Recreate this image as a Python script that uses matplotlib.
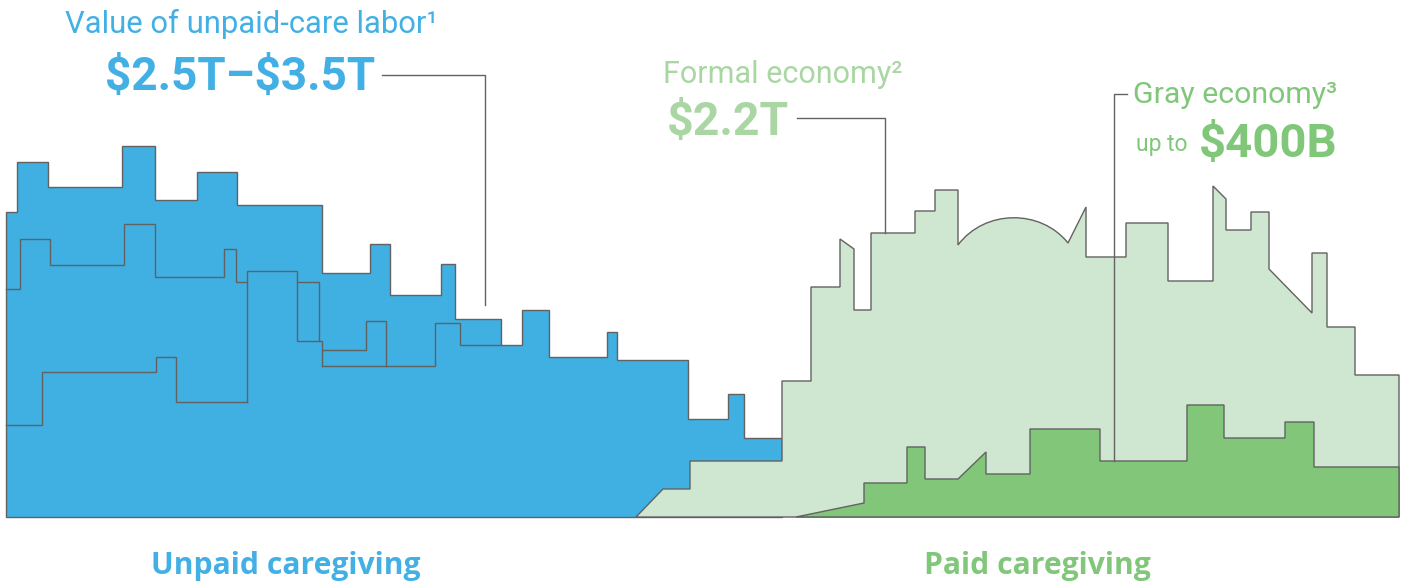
import matplotlib
matplotlib.use("Agg")
import matplotlib.pyplot as plt
from matplotlib.path import Path
from matplotlib.patches import PathPatch

# ---- data: skyline outlines (illustrative units; x left->right, y measured downward, baseline 517)
BASE = 517
unpaid_x = [6, 6, 17, 17, 48, 48, 122, 122, 155, 155, 197, 197, 237, 237, 322, 322, 370, 370,
            390, 390, 441, 441, 455, 455, 501, 501, 522, 522, 549, 549, 607, 607, 617, 617,
            688, 688, 728, 728, 744, 744, 782, 782]
unpaid_y = [517, 212, 212, 162, 162, 187, 187, 146, 146, 200, 200, 172, 172, 205, 205, 273, 273, 244,
            244, 295, 295, 264, 264, 319, 319, 345, 345, 310, 310, 357, 357, 332, 332, 360,
            360, 419, 419, 394, 394, 438, 438, 517]

# interior building lines of the unpaid skyline
inner_lines = [
    ([6, 20, 20, 50, 50, 124, 124, 155, 155, 224, 224, 236, 236, 247],
     [289, 289, 239, 239, 265, 265, 224, 224, 277, 277, 249, 249, 282, 282]),
    ([6, 42, 42, 156, 156, 176, 176, 247],
     [425, 425, 372, 372, 357, 357, 402, 402]),
    ([247, 247, 297, 297, 322, 322],
     [402, 271, 271, 341, 341, 366]),
    ([297, 319, 319], [282, 282, 341]),
    ([322, 366, 366, 386, 386], [350, 350, 321, 321, 366]),
    ([322, 435, 435, 460, 460, 501], [366, 366, 323, 323, 345, 345]),
]

formal_left_x = [636, 663, 690, 690, 782, 782, 811, 811, 840, 840, 854, 854, 871, 871, 915, 915, 935, 935, 958, 958]
formal_left_y = [517, 489, 489, 461, 461, 381, 381, 287, 287, 239, 249, 310, 310, 233, 233, 211, 211, 190, 190, 245]
dome_x = [985, 1041, 1068]
dome_y = [209, 209, 243]
formal_right_x = [1068, 1086, 1086, 1126, 1126, 1168, 1168, 1213, 1213, 1226, 1226, 1251, 1251, 1269, 1269,
                  1312, 1312, 1327, 1327, 1355, 1355, 1399, 1399]
formal_right_y = [189, 207, 257, 257, 223, 223, 281, 281, 186, 199, 230, 230, 212, 212, 269,
                  313, 253, 253, 327, 327, 375, 375, 517]

gray_x = [796, 864, 864, 907, 907, 925, 925, 958, 986, 986, 1030, 1030, 1100, 1100, 1187, 1187,
          1224, 1224, 1285, 1285, 1314, 1314, 1399, 1399]
gray_y = [517, 503, 483, 483, 447, 447, 479, 479, 452, 474, 474, 429, 429, 461, 461, 405,
          405, 438, 438, 422, 422, 467, 467, 517]

leader_lines = [
    ([382, 485, 485], [75, 75, 305]),
    ([797, 885, 885], [118, 118, 233]),
    ([1127, 1114, 1114], [94, 94, 461]),
]

BLUE = "#40AFE2"
LIGHT_GREEN = "#CFE7D0"
GREEN = "#82C67A"
EDGE = "#626262"
TXT_BLUE = "#42B0E4"
TXT_LGREEN = "#A9D6A3"
TXT_GREEN = "#80C77A"
LW = 1.0

fig = plt.figure(figsize=(14.07, 5.85), dpi=100)
ax = fig.add_axes([0, 0, 1, 1])
ax.set_xlim(0, 1407)
ax.set_ylim(585, 0)
ax.axis("off")

# unpaid skyline
verts = list(zip(unpaid_x, unpaid_y)) + [(unpaid_x[0], unpaid_y[0])]
codes = [Path.MOVETO] + [Path.LINETO] * (len(verts) - 2) + [Path.CLOSEPOLY]
ax.add_patch(PathPatch(Path(verts, codes), facecolor=BLUE, edgecolor=EDGE, lw=LW, joinstyle="miter"))
for xs, ys in inner_lines:
    ax.plot(xs, ys, color=EDGE, lw=LW, solid_joinstyle="miter")

# formal economy skyline (with dome)
verts = list(zip(formal_left_x, formal_left_y))
codes = [Path.MOVETO] + [Path.LINETO] * (len(verts) - 1)
verts += list(zip(dome_x, dome_y))
codes += [Path.CURVE4] * 3
verts += list(zip(formal_right_x[1:], formal_right_y[1:]))
codes += [Path.LINETO] * (len(formal_right_x) - 1)
verts += [(formal_left_x[0], formal_left_y[0])]
codes += [Path.CLOSEPOLY]
ax.add_patch(PathPatch(Path(verts, codes), facecolor=LIGHT_GREEN, edgecolor=EDGE, lw=LW, joinstyle="miter"))

# gray economy skyline
verts = list(zip(gray_x, gray_y)) + [(gray_x[0], gray_y[0])]
codes = [Path.MOVETO] + [Path.LINETO] * (len(verts) - 2) + [Path.CLOSEPOLY]
ax.add_patch(PathPatch(Path(verts, codes), facecolor=GREEN, edgecolor=EDGE, lw=LW, joinstyle="miter"))

for xs, ys in leader_lines:
    ax.plot(xs, ys, color=EDGE, lw=LW, solid_joinstyle="miter")

FONT = "Roboto"
kw = dict(family=FONT, va="baseline", ha="left", parse_math=False)
ax.text(65, 33, "Value of unpaid-care labor\u00b9", color=TXT_BLUE, fontsize=22.3, **kw)
ax.text(105, 90, "$2.5T\u2013$3.5T", color=TXT_BLUE, fontsize=33, weight="bold", **kw)
ax.text(663, 83, "Formal economy\u00b2", color=TXT_LGREEN, fontsize=22, **kw)
ax.text(667, 135, "$2.2T", color=TXT_LGREEN, fontsize=33.5, weight="bold", **kw)
ax.text(1133, 103, "Gray economy\u00b3", color=TXT_GREEN, fontsize=21.8, **kw)
ax.text(1136, 151, "up to", color=TXT_GREEN, fontsize=16.5, **kw)
ax.text(1199, 157, "$400B", color=TXT_GREEN, fontsize=34, weight="bold", **kw)
kw2 = dict(family="Open Sans", va="baseline", ha="left", parse_math=False, weight="bold")
ax.text(151, 574, "Unpaid caregiving", color=TXT_BLUE, fontsize=21.7, **kw2)
ax.text(924, 574, "Paid caregiving", color=TXT_GREEN, fontsize=21.7, **kw2)

fig.savefig("out.png", dpi=100)
